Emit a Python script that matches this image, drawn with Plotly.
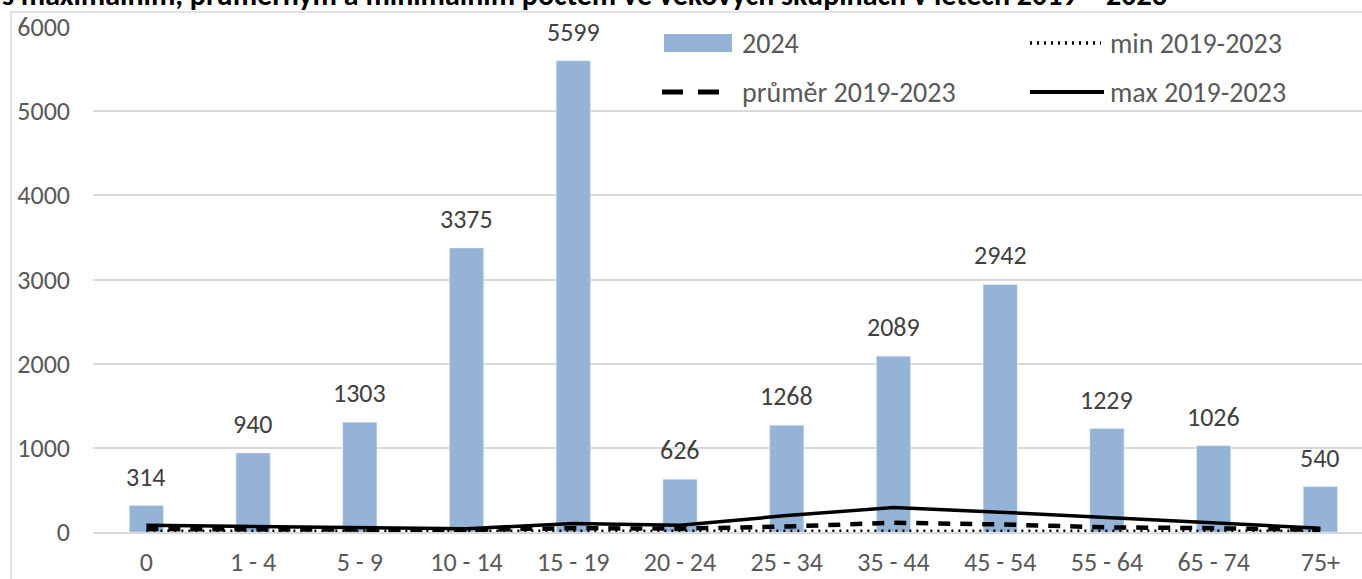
import plotly.graph_objects as go

categories = ["0", "1 - 4", "5 - 9", "10 - 14", "15 - 19", "20 - 24", "25 - 34",
              "35 - 44", "45 - 54", "55 - 64", "65 - 74", "75+"]
values_2024 = [314, 940, 1303, 3375, 5599, 626, 1268, 2089, 2942, 1229, 1026, 540]
max_2019_2023 = [80, 70, 60, 40, 100, 80, 195, 290, 235, 175, 110, 45]
mean_2019_2023 = [35, 35, 30, 25, 45, 40, 65, 110, 90, 55, 45, 25]
min_2019_2023 = [10, 10, 10, 10, 10, 10, 15, 20, 20, 15, 15, 10]

title_text = "s maximálním, průměrným a minimálním počtem ve věkových skupinách v letech 2019 – 2023"
legend_names = ["2024", "min 2019-2023", "průměr 2019-2023", "max 2019-2023"]

FONT = "Carlito, Lato, Liberation Sans, Arial"
W, H = 1362, 579
L, R, T, B = 93, 0, 27, 47
plot_w = W - L - R
plot_h = H - T - B
BAR_COLOR = "#95B3D7"


def px(x):
    return (x - L) / plot_w


def py(y):
    return (H - B - y) / plot_h


fig = go.Figure()
fig.add_trace(go.Bar(x=categories, y=values_2024, name=legend_names[0],
                     marker_color=BAR_COLOR, width=0.32, showlegend=False))
fig.add_trace(go.Scatter(x=categories, y=min_2019_2023, name=legend_names[1], mode="lines",
                         line=dict(color="black", width=3.5, dash="2px,5px"), showlegend=False))
fig.add_trace(go.Scatter(x=categories, y=mean_2019_2023, name=legend_names[2], mode="lines",
                         line=dict(color="black", width=4.5, dash="12px,10px"), showlegend=False))
fig.add_trace(go.Scatter(x=categories, y=max_2019_2023, name=legend_names[3], mode="lines",
                         line=dict(color="black", width=3.5), showlegend=False))

for c, v in zip(categories, values_2024):
    fig.add_annotation(x=c, y=v, text=str(v), showarrow=False, yshift=29,
                       font=dict(family=FONT, size=26, color="#404040"))

# title (cut off at the top edge, as in the reference)
fig.add_annotation(xref="paper", yref="paper", x=px(0), y=py(-5),
                   xanchor="left", yanchor="middle", text="<b>" + title_text + "</b>",
                   showarrow=False, font=dict(family=FONT, size=30, color="black"))

# chart-area border
fig.add_shape(type="rect", xref="paper", yref="paper",
              x0=px(11), x1=1.2, y0=-0.3, y1=py(12),
              line=dict(color="#D9D9D9", width=1.5), fillcolor="rgba(0,0,0,0)", layer="below")

# legend (2 x 2)
fig.add_shape(type="rect", xref="paper", yref="paper", x0=px(664), x1=px(732),
              y0=py(52), y1=py(34), line=dict(width=0), fillcolor=BAR_COLOR)
fig.add_shape(type="line", xref="paper", yref="paper", x0=px(1030), x1=px(1101),
              y0=py(43), y1=py(43), line=dict(color="black", width=3.5, dash="2px,5px"))
fig.add_shape(type="line", xref="paper", yref="paper", x0=px(662), x1=px(719),
              y0=py(92), y1=py(92), line=dict(color="black", width=5, dash="21px,15px"))
fig.add_shape(type="line", xref="paper", yref="paper", x0=px(1030), x1=px(1104),
              y0=py(92), y1=py(92), line=dict(color="black", width=4))
for name, lx, ly in zip(legend_names, [740, 1108, 740, 1108], [43, 43, 92, 92]):
    fig.add_annotation(xref="paper", yref="paper", x=px(lx), y=py(ly), xanchor="left",
                       yanchor="middle", text=name, showarrow=False,
                       font=dict(family=FONT, size=28, color="#595959"))

fig.update_layout(
    width=W, height=H,
    margin=dict(l=L, r=R, t=T, b=B),
    plot_bgcolor="white", paper_bgcolor="white",
    font=dict(family=FONT, size=26, color="#595959"),
    showlegend=False,
)
fig.update_xaxes(range=[-0.5, 11.39], showgrid=False, showline=True, linecolor="#D9D9D9",
                 linewidth=1.5, ticks="", tickfont=dict(size=26, color="#595959"),
                 ticklabelstandoff=6)
fig.update_yaxes(range=[0, 6000], dtick=1000, showgrid=True, gridcolor="#D9D9D9", gridwidth=1.5,
                 zeroline=False, showline=False, ticks="", tickfont=dict(size=26, color="#595959"),
                 ticklabelstandoff=22)

fig.write_html("out.html", config={"displayModeBar": False},
               post_script="document.body.style.margin='0';document.body.style.overflow='hidden';")
